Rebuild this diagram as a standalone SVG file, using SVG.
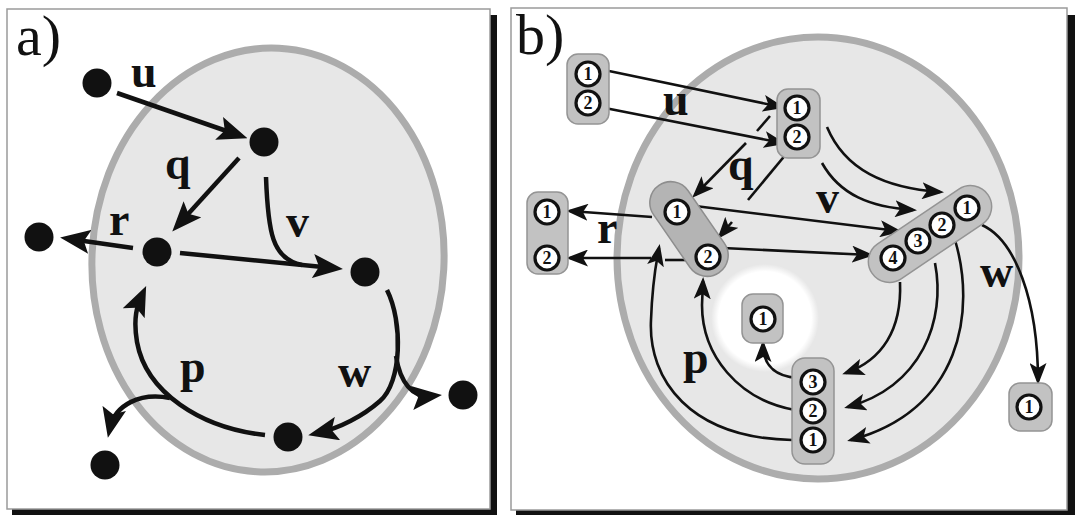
<svg xmlns="http://www.w3.org/2000/svg" width="1075" height="515" viewBox="0 0 1075 515">
<style>
.frame{fill:#fff;stroke:#9a9a9a;stroke-width:1.5}
.shadow{fill:#111}
.cell{fill:#e7e7e7;stroke:#acacac;stroke-width:7}
.dot{fill:#111}
.ca{fill:none;stroke:#111;stroke-width:4.5;marker-end:url(#ha)}
.cn{fill:none;stroke:#111;stroke-width:4.5}
.cb{fill:none;stroke:#111;stroke-width:2.6;marker-end:url(#hb)}
.cbn{fill:none;stroke:#111;stroke-width:2.6}
.grp{fill:#c2c2c2;stroke:#949494;stroke-width:1.5}
.grpd{fill:#b4b4b4;stroke:#8e8e8e;stroke-width:1.5}
.site{fill:#fff;stroke:#111;stroke-width:3.2}
.num{font-family:"Liberation Serif",serif;font-weight:bold;font-size:18px;text-anchor:middle;fill:#111}
.lbl{font-family:"Liberation Serif",serif;font-weight:bold;font-size:46px;fill:#111}
.title{font-family:"Liberation Serif",serif;font-size:58px;fill:#111}
</style>
<defs>
<marker id="ha" markerUnits="userSpaceOnUse" markerWidth="30" markerHeight="24" viewBox="0 0 30 24" refX="20" refY="12" orient="auto">
<path d="M0,0 L30,12 L0,24 L6,12 z" fill="#111"/>
</marker>
<marker id="hb" markerUnits="userSpaceOnUse" markerWidth="22" markerHeight="17" viewBox="0 0 22 17" refX="18" refY="8.5" orient="auto">
<path d="M0,0 L22,8.5 L0,17 L5,8.5 z" fill="#111"/>
</marker>
<radialGradient id="glow" cx="0.5" cy="0.5" r="0.5">
<stop offset="0" stop-color="#fff" stop-opacity="1"/>
<stop offset="0.86" stop-color="#fff" stop-opacity="1"/>
<stop offset="1" stop-color="#fff" stop-opacity="0"/>
</radialGradient>
</defs>

<!-- Panel a -->
<g id="panel-a">
<rect class="shadow" x="490" y="15" width="7" height="500"/>
<rect class="shadow" x="12" y="509" width="485" height="6"/>
<rect class="frame" x="7" y="9" width="483" height="500"/>
<text class="title" x="16" y="55">a)</text>
<ellipse class="cell" cx="268" cy="260" rx="176" ry="212" transform="rotate(3 268 260)"/>
</g>

<g id="a-connectors">
<path class="ca" d="M117,93 L238,135"/>
<path class="ca" d="M239,158 L179,224"/>
<path class="ca" d="M133,248 L70,239"/>
<path class="ca" d="M180,253 L333,268"/>
<path class="cn" d="M266,177 C268,232 272,259 302,265"/>
<path class="ca" d="M387,290 C403,322 402,382 380,401 C363,416 340,428 318,433"/>
<path class="ca" d="M396,356 C400,382 412,398 432,396"/>
<path class="ca" d="M265,435 C200,428 146,392 137,342 C133,318 137,306 142,295"/>
<path class="ca" d="M170,398 C140,392 115,405 110,428"/>
</g>

<g id="a-labels">
<text class="lbl" x="131" y="87">u</text>
<text class="lbl" x="165" y="179">q</text>
<text class="lbl" x="109" y="235">r</text>
<text class="lbl" x="286" y="237">v</text>
<text class="lbl" x="338" y="387">w</text>
<text class="lbl" x="180" y="382">p</text>
</g>

<g id="a-n-u"><circle class="dot" cx="97" cy="83" r="14.5"/></g>
<g id="a-n-top"><circle class="dot" cx="264" cy="142" r="14.5"/></g>
<g id="a-n-rout"><circle class="dot" cx="39" cy="237" r="14.5"/></g>
<g id="a-n-left"><circle class="dot" cx="157" cy="252" r="14.5"/></g>
<g id="a-n-right"><circle class="dot" cx="365" cy="272" r="14.5"/></g>
<g id="a-n-wout"><circle class="dot" cx="463" cy="395" r="14.5"/></g>
<g id="a-n-bottom"><circle class="dot" cx="288" cy="437" r="14.5"/></g>
<g id="a-n-pout"><circle class="dot" cx="105" cy="465" r="14.5"/></g>

<!-- Panel b -->
<g id="panel-b">
<rect class="shadow" x="1067" y="15" width="8" height="500"/>
<rect class="shadow" x="516" y="510" width="559" height="5"/>
<rect class="frame" x="511" y="8" width="556" height="502"/>
<text class="title" x="516" y="54">b)</text>
<ellipse class="cell" cx="818" cy="258" rx="201" ry="221"/>
<circle cx="765" cy="318" r="54" fill="url(#glow)"/>
</g>

<g id="b-connectors">
<path class="cb" d="M609,71 L781,107"/>
<path class="cb" d="M605,108 L782,143"/>
<path class="cbn" d="M770,116 L757,131"/>
<path class="cb" d="M746,143 L695,195"/>
<path class="cbn" d="M787,153 L748,200"/>
<path class="cb" d="M732,222 L720,236"/>
<path class="cb" d="M652,217 L570,211"/>
<path class="cbn" d="M690,260 L665,260"/>
<path class="cb" d="M651,258 L570,258"/>
<path class="cb" d="M695,206 L898,231"/>
<path class="cb" d="M723,248 L870,255"/>
<path class="cb" d="M827,127 C845,170 885,188 940,192"/>
<path class="cb" d="M822,163 C840,195 870,207 913,210"/>
<path class="cb" d="M900,282 C902,330 882,360 846,373"/>
<path class="cb" d="M935,263 C946,320 922,386 848,407"/>
<path class="cb" d="M955,240 C976,310 962,410 851,440"/>
<path class="cb" d="M982,225 C1015,240 1038,300 1038,381"/>
<path class="cb" d="M792,440 C690,438 648,380 651,320 C652,292 655,268 659,248"/>
<path class="cb" d="M795,410 C738,400 702,355 702,305 L703,281"/>
<path class="cb" d="M797,378 C775,376 763,366 763,344"/>
</g>

<g id="b-labels">
<text class="lbl" x="663" y="115">u</text>
<text class="lbl" x="728" y="180">q</text>
<text class="lbl" x="816" y="213">v</text>
<text class="lbl" x="597" y="243">r</text>
<text class="lbl" x="980" y="287">w</text>
<text class="lbl" x="683" y="373">p</text>
</g>

<g id="b-g-in">
<rect class="grp" x="567" y="54" width="42" height="70" rx="11"/>
<circle class="site" cx="588" cy="74" r="12"/><text class="num" x="588" y="80">1</text>
<circle class="site" cx="588" cy="103" r="12"/><text class="num" x="588" y="109">2</text>
</g>
<g id="b-g-top">
<rect class="grp" x="777" y="89" width="43" height="69" rx="11"/>
<circle class="site" cx="797" cy="108" r="12"/><text class="num" x="797" y="114">1</text>
<circle class="site" cx="797" cy="137" r="12"/><text class="num" x="797" y="143">2</text>
</g>
<g id="b-g-left">
<rect class="grpd" x="-53" y="-21" width="106" height="42" rx="21" transform="translate(689,229) rotate(55.4)"/>
<circle class="site" cx="677" cy="212" r="12"/><text class="num" x="677" y="218">1</text>
<circle class="site" cx="708" cy="257" r="12"/><text class="num" x="708" y="263">2</text>
</g>
<g id="b-g-rout">
<rect class="grp" x="527" y="192" width="41" height="82" rx="11"/>
<circle class="site" cx="547" cy="212" r="12"/><text class="num" x="547" y="218">1</text>
<circle class="site" cx="547" cy="258" r="12"/><text class="num" x="547" y="264">2</text>
</g>
<g id="b-g-four">
<rect class="grp" x="-70" y="-21" width="140" height="42" rx="21" transform="translate(930,234) rotate(-34)"/>
<circle class="site" cx="967" cy="208" r="12"/><text class="num" x="967" y="214">1</text>
<circle class="site" cx="942" cy="225" r="12"/><text class="num" x="942" y="231">2</text>
<circle class="site" cx="918" cy="241" r="12"/><text class="num" x="918" y="247">3</text>
<circle class="site" cx="893" cy="258" r="12"/><text class="num" x="893" y="264">4</text>
</g>
<g id="b-g-center">
<rect class="grp" x="742" y="294" width="41" height="49" rx="11"/>
<circle class="site" cx="763" cy="319" r="12"/><text class="num" x="763" y="325">1</text>
</g>
<g id="b-g-bottom">
<rect class="grp" x="792" y="358" width="42" height="106" rx="13"/>
<circle class="site" cx="813" cy="382" r="12"/><text class="num" x="813" y="388">3</text>
<circle class="site" cx="813" cy="411" r="12"/><text class="num" x="813" y="417">2</text>
<circle class="site" cx="813" cy="440" r="12"/><text class="num" x="813" y="446">1</text>
</g>
<g id="b-g-wout">
<rect class="grp" x="1009" y="383" width="43" height="48" rx="11"/>
<circle class="site" cx="1029" cy="407" r="12"/><text class="num" x="1029" y="413">1</text>
</g>
</svg>
